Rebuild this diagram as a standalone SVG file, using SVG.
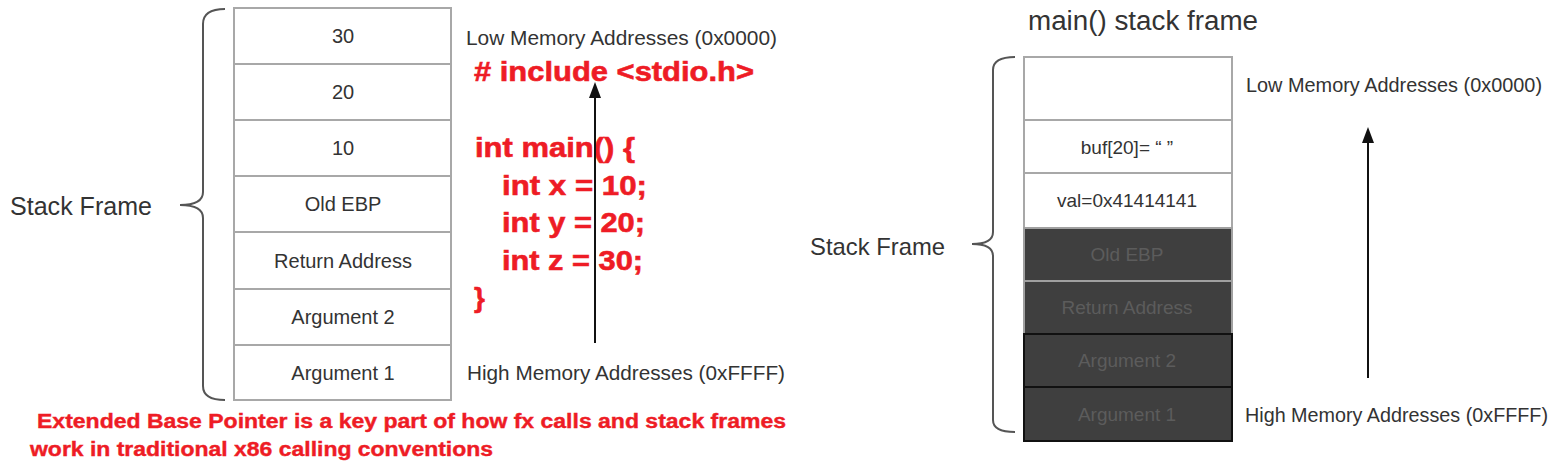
<svg xmlns="http://www.w3.org/2000/svg" width="1560" height="461" viewBox="0 0 1560 461">
<style>
.cell{fill:#ffffff;stroke:#a8a8a8;stroke-width:2}
.dark{fill:#3f3f3f;stroke:#a0a0a0;stroke-width:2}
.darkb{fill:#3f3f3f;stroke:#111111;stroke-width:2}
.ct{font-family:"Liberation Sans",Arial,sans-serif;font-size:20px;fill:#333333;text-anchor:middle}
.ctr{font-family:"Liberation Sans",Arial,sans-serif;font-size:19px;fill:#333333;text-anchor:middle}
.dt{font-family:"Liberation Sans",Arial,sans-serif;font-size:19px;fill:#5c5c5c;text-anchor:middle}
.lbl{font-family:"Liberation Sans",Arial,sans-serif;font-size:21px;fill:#333333}
.big{font-family:"Liberation Sans",Arial,sans-serif;fill:#333333}
.code{font-family:"Liberation Sans",Arial,sans-serif;font-weight:bold;font-size:28px;fill:#ee1c25;stroke:#ee1c25;stroke-width:0.6}
.note{font-family:"Liberation Sans",Arial,sans-serif;font-weight:bold;font-size:20px;fill:#ee1c25;stroke:#ee1c25;stroke-width:0.4}
.brace{fill:none;stroke:#555555;stroke-width:2}
.arrow{stroke:#111111;stroke-width:2;fill:none}
</style>

<!-- Left stack -->
<g id="left-stack">
  <g id="l-row-30"><rect class="cell" x="234" y="8" width="217" height="56"/><text class="ct" x="343" y="43">30</text></g>
  <g id="l-row-20"><rect class="cell" x="234" y="64" width="217" height="56"/><text class="ct" x="343" y="99">20</text></g>
  <g id="l-row-10"><rect class="cell" x="234" y="120" width="217" height="56"/><text class="ct" x="343" y="155">10</text></g>
  <g id="l-row-ebp"><rect class="cell" x="234" y="176" width="217" height="56"/><text class="ct" x="343" y="211">Old EBP</text></g>
  <g id="l-row-ret"><rect class="cell" x="234" y="232" width="217" height="57"/><text class="ct" x="343" y="268">Return Address</text></g>
  <g id="l-row-arg2"><rect class="cell" x="234" y="289" width="217" height="56"/><text class="ct" x="343" y="324">Argument 2</text></g>
  <g id="l-row-arg1"><rect class="cell" x="234" y="345" width="217" height="55"/><text class="ct" x="343" y="380">Argument 1</text></g>
</g>
<g id="left-brace">
  <path class="brace" d="M225,9 Q203,9 203,24 L203,192 Q203,205 180,205 Q203,205 203,218 L203,386 Q203,400 225,400"/>
  <text class="big" x="10" y="215" font-size="25" textLength="142" lengthAdjust="spacingAndGlyphs">Stack Frame</text>
</g>
<g id="left-labels">
  <text class="lbl" x="466" y="45" textLength="311" lengthAdjust="spacingAndGlyphs">Low Memory Addresses (0x0000)</text>
  <text class="lbl" x="467" y="380" textLength="318" lengthAdjust="spacingAndGlyphs">High Memory Addresses (0xFFFF)</text>
</g>
<g id="code">
  <text class="code" x="474" y="81" textLength="280" lengthAdjust="spacingAndGlyphs"># include &lt;stdio.h&gt;</text>
  <text class="code" x="475" y="157" textLength="160" lengthAdjust="spacingAndGlyphs">int main() {</text>
  <text class="code" x="502" y="195" textLength="145" lengthAdjust="spacingAndGlyphs">int x = 10;</text>
  <text class="code" x="502" y="232" textLength="143" lengthAdjust="spacingAndGlyphs">int y = 20;</text>
  <text class="code" x="502" y="270" textLength="141" lengthAdjust="spacingAndGlyphs">int z = 30;</text>
  <text class="code" x="474" y="307">}</text>
</g>
<g id="note">
  <text class="note" x="37" y="428" textLength="749" lengthAdjust="spacingAndGlyphs">Extended Base Pointer is a key part of how fx calls and stack frames</text>
  <text class="note" x="30" y="456" textLength="463" lengthAdjust="spacingAndGlyphs">work in traditional x86 calling conventions</text>
</g>

<!-- Right stack -->
<text id="title" class="big" x="1028" y="30" font-size="27" textLength="230" lengthAdjust="spacingAndGlyphs">main() stack frame</text>
<g id="right-stack">
  <g id="r-row-empty"><rect class="cell" x="1024" y="57" width="208" height="63"/></g>
  <g id="r-row-buf"><rect class="cell" x="1024" y="120" width="208" height="53"/><text class="ctr" x="1127" y="154">buf[20]= “ ”</text></g>
  <g id="r-row-val"><rect class="cell" x="1024" y="173" width="208" height="55"/><text class="ctr" x="1127" y="207">val=0x41414141</text></g>
  <g id="r-row-ebp"><rect class="dark" x="1024" y="228" width="208" height="53"/><text class="dt" x="1127" y="261">Old EBP</text></g>
  <g id="r-row-ret"><rect class="dark" x="1024" y="281" width="208" height="53"/><text class="dt" x="1127" y="314">Return Address</text></g>
  <g id="r-row-arg2"><rect class="darkb" x="1024" y="334" width="208" height="53"/><text class="dt" x="1127" y="367">Argument 2</text></g>
  <g id="r-row-arg1"><rect class="darkb" x="1024" y="387" width="208" height="54"/><text class="dt" x="1127" y="421">Argument 1</text></g>
</g>
<g id="right-brace">
  <path class="brace" d="M1015,57 Q993,57 993,70 L993,232 Q993,244 972,244 Q993,244 993,256 L993,420 Q993,432 1015,432"/>
  <text class="big" x="810" y="255" font-size="24" textLength="135" lengthAdjust="spacingAndGlyphs">Stack Frame</text>
</g>
<g id="right-labels">
  <text class="lbl" x="1246" y="92" font-size="20" textLength="296" lengthAdjust="spacingAndGlyphs">Low Memory Addresses (0x0000)</text>
  <text class="lbl" x="1245" y="422" font-size="20" textLength="303" lengthAdjust="spacingAndGlyphs">High Memory Addresses (0xFFFF)</text>
</g>

<!-- Connectors -->
<g id="connectors">
  <line class="arrow" x1="595" y1="343" x2="595" y2="95"/>
  <polygon points="595,82 589,98 601,98" fill="#111111"/>
  <line class="arrow" x1="1368" y1="378" x2="1368" y2="140"/>
  <polygon points="1368,127 1362,143 1374,143" fill="#111111"/>
</g>
</svg>
